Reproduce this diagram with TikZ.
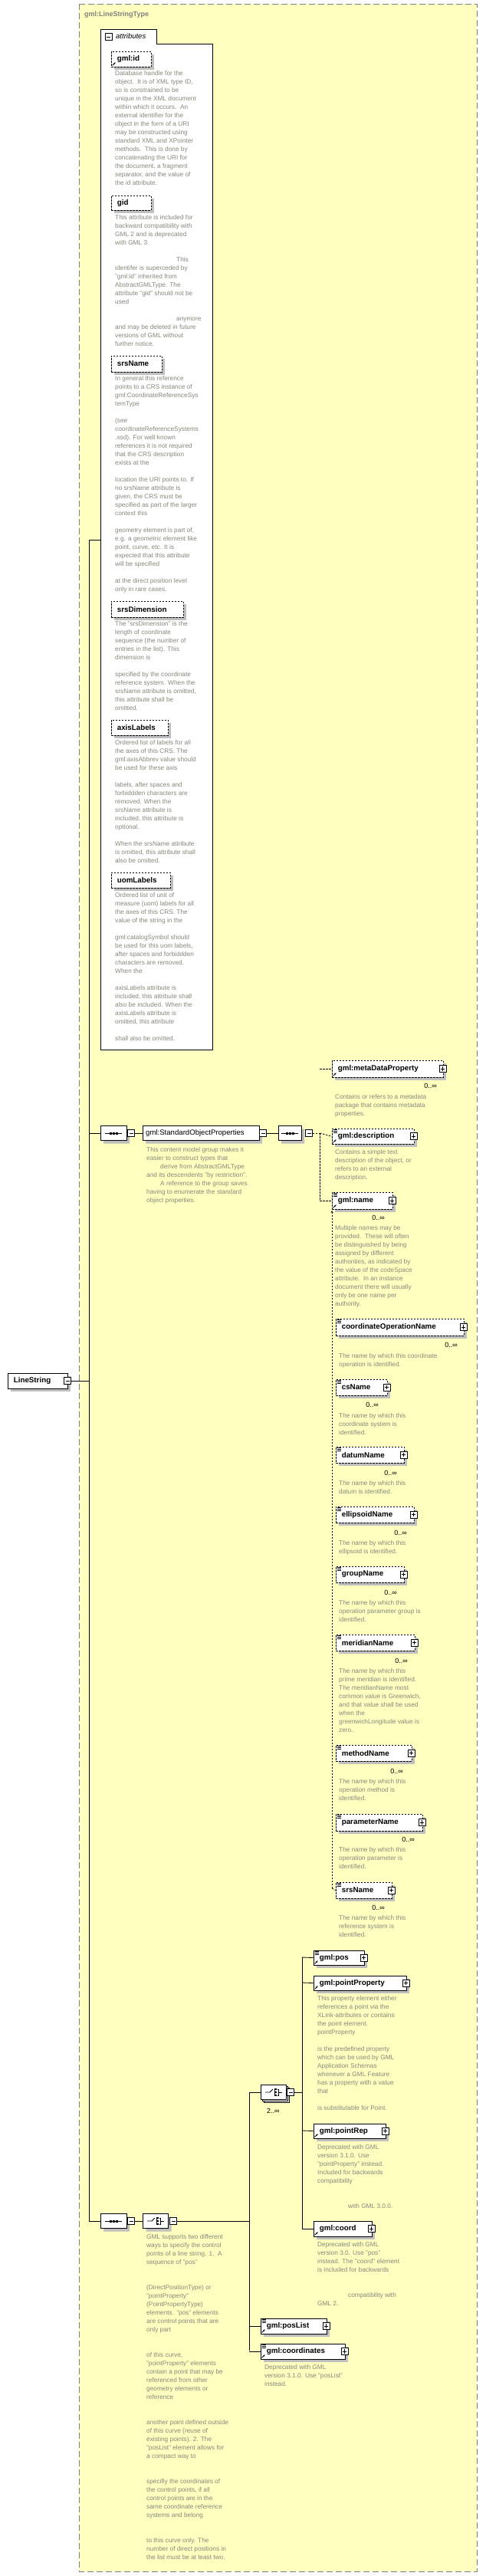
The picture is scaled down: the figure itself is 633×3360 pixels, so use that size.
\documentclass[tikz,border=0pt]{standalone}
\usepackage{fontspec}
\setmainfont{Liberation Sans}
\usetikzlibrary{shapes.misc,shadows,arrows.meta}
\definecolor{bgyellow}{RGB}{255,255,192}
\definecolor{descgray}{RGB}{135,135,125}
\definecolor{framegray}{RGB}{128,128,128}
\tikzset{
  desc/.style={anchor=north west,inner sep=0,align=left,text=descgray,font=\fontsize{8.3}{11}\selectfont},
  elem/.style={draw=black,fill=white,line width=0.8pt,inner sep=0,drop shadow={shadow xshift=4pt,shadow yshift=-4pt,fill=black!25,draw=none,opacity=1}},
  opt/.style={dashed,dash pattern=on 2.5pt off 1.5pt},
  elname/.style={anchor=west,inner sep=0,font=\bfseries\fontsize{9.8}{11}\selectfont},
  pm/.style={draw=black,fill=white,line width=0.6pt,minimum size=9pt,inner sep=0,
    path picture={\draw[line width=0.6pt] ([xshift=2pt]path picture bounding box.west) -- ([xshift=-2pt]path picture bounding box.east);}},
  pmplus/.style={pm,postaction={path picture={\draw[line width=0.6pt] ([yshift=2pt]path picture bounding box.south) -- ([yshift=-2pt]path picture bounding box.north);}}},
  compositor/.style={chamfered rectangle,chamfered rectangle xsep=5pt,chamfered rectangle ysep=5pt,draw=black,fill=white,line width=0.8pt,minimum width=34pt,minimum height=19pt,inner sep=0,drop shadow={shadow xshift=4pt,shadow yshift=-4pt,fill=black!25,draw=none,opacity=1}},
  mult/.style={anchor=east,inner sep=0,font=\fontsize{9}{10}\selectfont},
  conn/.style={line width=0.8pt,draw=black},
  dconn/.style={line width=0.8pt,draw=black,dash pattern=on 2.5pt off 1.5pt},
}
\newcommand\xel[7][]{\node[elem,#1,minimum width={(#5-#3)*1pt},minimum height={(#6-#4)*1pt}] (#2) at ({(#3+#5)/2},{(#4+#6)/2}) {};
  \node[elname] (#2-t) at ([xshift=8pt]#2.west) {#7};}
\newcommand\plusbox[1]{\node[pm] (#1-p) at ([xshift=-1pt]#1.east) {};
  \draw[line width=0.6pt] ([yshift=2pt]#1-p.south) -- ([yshift=-2pt]#1-p.north);}
\newcommand\minusbox[2]{\node[pm] (#1) at #2 {};}
\newcommand\refmark[1]{\draw[line width=0.8pt,-{Stealth[length=2.5pt,width=2.5pt]}] ([shift={(2pt,2pt)}]#1.south west) -- ([shift={(6pt,6pt)}]#1.south west);}
\newcommand\simplemark[1]{\foreach \d in {2,4,6}{\draw[line width=0.5pt] ([shift={(2pt,-\d pt)}]#1.north west) -- ++(5pt,0pt);}}
\newcommand\seqsym[1]{\draw[line width=0.8pt] ([xshift=-11pt]#1.center) -- ([xshift=11pt]#1.center);
  \foreach \d in {-4,0,4}{\fill ([shift={(\d pt-1.5pt,-1.5pt)}]#1.center) rectangle ++(3pt,3pt);}}
\newcommand\chsym[1]{\draw[line width=0.8pt] ([xshift=-11pt]#1.center) -- ([xshift=-5pt]#1.center) -- ([shift={(-1pt,4pt)}]#1.center);
  \draw[line width=0.8pt] ([shift={(1pt,5pt)}]#1.center) -- ([shift={(1pt,-5pt)}]#1.center);
  \foreach \d in {-4,0,4}{\fill ([shift={(2pt,\d pt-1.2pt)}]#1.center) rectangle ++(2.4pt,2.4pt);}
  \draw[line width=0.8pt] ([shift={(4.5pt,4pt)}]#1.center) -- ([shift={(6pt,4pt)}]#1.center) -- ([shift={(6pt,-4pt)}]#1.center) -- ([shift={(4.5pt,-4pt)}]#1.center);
  \draw[line width=0.8pt] ([xshift=6pt]#1.center) -- ([xshift=11pt]#1.center);}
\begin{document}
\begin{tikzpicture}[x=1pt,y=-1pt]
\useasboundingbox (0,0) rectangle (633,3360);
\fill[white] (0,0) rectangle (633,3360);
% type frame
\draw[fill=bgyellow,draw=framegray,line width=0.8pt,dash pattern=on 8pt off 4pt] (103,5) rectangle (622,3354);
\node[anchor=west,inner sep=0,text=framegray,font=\bfseries\fontsize{9}{10}\selectfont] (typelabel) at (110,19) {gml:LineStringType};
% attributes box
\draw[fill=white,line width=0.8pt] (131,57) rectangle (277,1369);
\draw[fill=white,line width=0.8pt] (131,38) rectangle (204,57);
\fill[white] (131.5,56) rectangle (203.5,58);
\node[pm] (attrm) at (141.5,48) {};
\node[anchor=west,inner sep=0,font=\itshape\fontsize{9.5}{11}\selectfont] (attrlabel) at (151,47.5) {attributes};
\coordinate (attrbox) at (131,704);
% attributes
\xel[opt]{gmlid}{145}{67}{197}{87}{gml:id}\refmark{gmlid}
\node[desc] (dgmlid) at (150,92) {Database handle for the\\object.\ \ It is of XML type ID,\\so is constrained to be\\unique in the XML document\\within which it occurs.\ \ An\\external identifier for the\\object in the form of a URI\\may be constructed using\\standard XML and XPointer\\methods.\ \ This is done by\\concatenating the URI for\\the document, a fragment\\separator, and the value of\\the id attribute.};
\xel[opt]{gid}{145}{255}{197}{274}{gid}
\node[desc] (dgid) at (150,280) {This attribute is included for\\backward compatibility with\\GML 2 and is deprecated\\with GML 3.\\[11pt]\hspace*{80pt}This\\identifer is superceded by\\"gml:id" inherited from\\AbstractGMLType. The\\attribute "gid" should not be\\used\\[11pt]\hspace*{80pt}anymore\\and may be deleted in future\\versions of GML without\\further notice.};
\xel[opt]{srsname}{145}{464}{211}{485}{srsName}
\node[desc] (dsrsname) at (150,490) {In general this reference\\points to a CRS instance of\\gml:CoordinateReferenceSys\\temType\\[11pt](see\\coordinateReferenceSystems\\.xsd). For well known\\references it is not required\\that the CRS description\\exists at the\\[11pt]location the URI points to. If\\no srsName attribute is\\given, the CRS must be\\specified as part of the larger\\context this\\[11pt]geometry element is part of,\\e.g. a geometric element like\\point, curve, etc. It is\\expected that this attribute\\will be specified\\[11pt]at the direct position level\\only in rare cases.};
\xel[opt]{srsdim}{145}{784}{239}{805}{srsDimension}
\node[desc] (dsrsdim) at (150,810) {The "srsDimension" is the\\length of coordinate\\sequence (the number of\\entries in the list). This\\dimension is\\[11pt]specified by the coordinate\\reference system. When the\\srsName attribute is omitted,\\this attribute shall be\\omitted.};
\xel[opt]{axislab}{145}{939}{219}{959}{axisLabels}
\node[desc] (daxislab) at (150,965) {Ordered list of labels for all\\the axes of this CRS. The\\gml:axisAbbrev value should\\be used for these axis\\[11pt]labels, after spaces and\\forbiddden characters are\\removed. When the\\srsName attribute is\\included, this attribute is\\optional.\\[11pt]When the srsName attribute\\is omitted, this attribute shall\\also be omitted.};
\xel[opt]{uomlab}{145}{1138}{222}{1158}{uomLabels}
\node[desc] (duomlab) at (150,1164) {Ordered list of unit of\\measure (uom) labels for all\\the axes of this CRS. The\\value of the string in the\\[11pt]gml:catalogSymbol should\\be used for this uom labels,\\after spaces and forbiddden\\characters are removed.\\When the\\[11pt]axisLabels attribute is\\included, this attribute shall\\also be included. When the\\axisLabels attribute is\\omitted, this attribute\\[11pt]shall also be omitted.};
% root element
\xel{linestring}{10}{1791}{88}{1811}{LineString}
\minusbox{lsm}{(88,1801)}
\coordinate (spine) at (116,1801);
% sequence 1
\node[compositor] (seq1) at (148,1478) {};\seqsym{seq1}
\minusbox{seq1m}{(171,1478)}
\node[compositor,minimum width=152pt,minimum height=19pt,chamfered rectangle xsep=4pt] (sop) at (262,1478) {};
\node[anchor=west,inner sep=0,font=\fontsize{9.6}{11}\selectfont] (sopt) at (190,1478) {gml:StandardObjectProperties};
\minusbox{sopm}{(343,1478)}
\node[desc] (dsop) at (191,1496) {This content model group makes it\\easier to construct types that\\\hspace*{18pt}derive from AbstractGMLType\\and its descendents "by restriction".\\\hspace*{18pt}A reference to the group saves\\having to enumerate the standard\\object properties.};
\node[compositor,minimum width=30pt] (seq2) at (378,1478) {};\seqsym{seq2}
\minusbox{seq2m}{(403,1478)}
% standard object properties
\xel[opt]{mdp}{433}{1383}{578}{1405}{gml:metaDataProperty}\plusbox{mdp}\refmark{mdp}
\node[mult] (mmdp) at (570,1416) {0..∞};
\node[desc] (dmdp) at (437,1427) {Contains or refers to a metadata\\package that contains metadata\\properties.};
\xel[opt]{gdesc}{433}{1472}{540}{1492}{gml:description}\plusbox{gdesc}\refmark{gdesc}\simplemark{gdesc}
\node[desc] (dgdesc) at (437,1499) {Contains a simple text\\description of the object, or\\refers to an external\\description.};
\xel[opt]{gname}{433}{1555}{512}{1577}{gml:name}\plusbox{gname}\refmark{gname}\simplemark{gname}
\node[mult] (mgname) at (502,1588) {0..∞};
\node[desc] (dgname) at (437,1598) {Multiple names may be\\provided.\ \ These will often\\be distinguished by being\\assigned by different\\authorities, as indicated by\\the value of the codeSpace\\attribute.\ \ In an instance\\document there will usually\\only be one name per\\authority.};
% substitution group members
\xel[opt]{con}{438}{1720}{605}{1742}{coordinateOperationName}\plusbox{con}\simplemark{con}
\node[mult] (mcon) at (597,1754) {0..∞};
\node[desc] (dcon) at (442,1765) {The name by which this coordinate\\operation is identified.};
\xel[opt]{csname}{438}{1799}{505}{1820}{csName}\plusbox{csname}\simplemark{csname}
\node[mult] (mcsname) at (494,1832) {0..∞};
\node[desc] (dcsname) at (442,1843) {The name by which this\\coordinate system is\\identified.};
\xel[opt]{datum}{438}{1887}{527}{1908}{datumName}\plusbox{datum}\simplemark{datum}
\node[mult] (mdatum) at (518,1921) {0..∞};
\node[desc] (ddatum) at (442,1931) {The name by which this\\datum is identified.};
\xel[opt]{ellip}{438}{1965}{540}{1986}{ellipsoidName}\plusbox{ellip}\simplemark{ellip}
\node[mult] (mellip) at (531,1999) {0..∞};
\node[desc] (dellip) at (442,2009) {The name by which this\\ellipsoid is identified.};
\xel[opt]{group}{438}{2043}{527}{2064}{groupName}\plusbox{group}\simplemark{group}
\node[mult] (mgroup) at (518,2077) {0..∞};
\node[desc] (dgroup) at (442,2087) {The name by which this\\operation parameter group is\\identified.};
\xel[opt]{merid}{438}{2132}{541}{2153}{meridianName}\plusbox{merid}\simplemark{merid}
\node[mult] (mmerid) at (532,2166) {0..∞};
\node[desc] (dmerid) at (442,2176) {The name by which this\\prime meridian is identified.\\The meridianName most\\common value is Greenwich,\\and that value shall be used\\when the\\greenwichLongitude value is\\zero.};
\xel[opt]{method}{438}{2276}{537}{2297}{methodName}\plusbox{method}\simplemark{method}
\node[mult] (mmethod) at (526,2310) {0..∞};
\node[desc] (dmethod) at (442,2320) {The name by which this\\operation method is\\identified.};
\xel[opt]{param}{438}{2366}{551}{2388}{parameterName}\plusbox{param}\simplemark{param}
\node[mult] (mparam) at (541,2399) {0..∞};
\node[desc] (dparam) at (442,2409) {The name by which this\\operation parameter is\\identified.};
\xel[opt]{srsn2}{438}{2455}{511}{2476}{srsName}\plusbox{srsn2}\simplemark{srsn2}
\node[mult] (msrsn2) at (502,2488) {0..∞};
\node[desc] (dsrsn2) at (442,2498) {The name by which this\\reference system is\\identified.};
% bottom part
\node[compositor] (seq3) at (148,2897) {};\seqsym{seq3}
\minusbox{seq3m}{(171,2897)}
\node[compositor,minimum width=33pt] (ch1) at (203,2897) {};\chsym{ch1}
\minusbox{ch1m}{(226,2897)}
\node[desc] (dch1) at (191,2914) {GML supports two different\\ways to specify the control\\points of a line string. 1.\ \ A\\sequence of "pos"\\[22pt](DirectPositionType) or\\"pointProperty"\\(PointPropertyType)\\elements. "pos" elements\\are control points that are\\only part\\[22pt]of this curve,\\"pointProperty" elements\\contain a point that may be\\referenced from other\\geometry elements or\\reference\\[22pt]another point defined outside\\of this curve (reuse of\\existing points). 2. The\\"posList" element allows for\\a compact way to\\[22pt]specifiy the coordinates of\\the control points, if all\\control points are in the\\same coordinate reference\\systems and belong\\[22pt]to this curve only. The\\number of direct positions in\\the list must be at least two.};
\node[compositor,minimum width=33pt,double copy shadow={shadow xshift=2pt,shadow yshift=-2pt,fill=white,draw=black}] (ch2) at (357,2729) {};\chsym{ch2}
\minusbox{ch2m}{(379,2729)}
\node[anchor=west,inner sep=0,font=\fontsize{9}{10}\selectfont] (mch2) at (348,2753) {2..∞};
\coordinate (v2) at (394,2729);
\xel{pos}{409}{2544}{475}{2563}{gml:pos}\plusbox{pos}\refmark{pos}\simplemark{pos}
\xel{pp}{409}{2577}{530}{2596}{gml:pointProperty}\plusbox{pp}\refmark{pp}
\node[desc] (dpp) at (414,2603) {This property element either\\references a point via the\\XLink-attributes or contains\\the point element.\\pointProperty\\[11pt]is the predefined property\\which can be used by GML\\Application Schemas\\whenever a GML Feature\\has a property with a value\\that\\[11pt]is substitutable for Point.};
\xel{prep}{409}{2770}{503}{2789}{gml:pointRep}\plusbox{prep}\refmark{prep}
\node[desc] (dprep) at (414,2797) {Deprecated with GML\\version 3.1.0. Use\\"pointProperty" instead.\\Included for backwards\\compatibility\\[22pt]\hspace*{40pt}with GML 3.0.0.};
\xel{coord}{409}{2897}{485}{2917}{gml:coord}\plusbox{coord}\refmark{coord}
\node[desc] (dcoord) at (414,2924) {Deprecated with GML\\version 3.0. Use "pos"\\instead. The "coord" element\\is included for backwards\\[22pt]\hspace*{40pt}compatibility with\\GML 2.};
\xel{poslist}{340}{3024}{426}{3044}{gml:posList}\plusbox{poslist}\refmark{poslist}\simplemark{poslist}
\xel{coords}{340}{3057}{450}{3077}{gml:coordinates}\plusbox{coords}\refmark{coords}\simplemark{coords}
\node[desc] (dcoords) at (345,3084) {Deprecated with GML\\version 3.1.0. Use "posList"\\instead.};
% connectors
\draw[conn] (lsm.east) -- (spine);
\draw[conn] (116,704) -- (116,2897);
\draw[conn] (116,704) -- (attrbox);
\draw[conn] (116,1478) -- (seq1.west);
\draw[conn] (116,2897) -- (seq3.west);
\draw[conn] (seq1m.east) -- (sop.west);
\draw[conn] (sopm.east) -- (seq2.west);
\draw[dconn] (seq2m.east) -- (417,1478);
\draw[dconn] (417,1394) |- (mdp.west);
\draw[dconn] (417,1478) -- (gdesc.west);
\draw[dconn] (417,1478) |- (gname.west);
\draw[dconn,-{Stealth[length=3pt,width=3pt]}] (433,2463) -- (433,1579);
\draw[dconn] (433,2463) -- (srsn2.west);
\draw[conn] (seq3m.east) -- (ch1.west);
\draw[conn] (ch1m.east) -- (325,2897);
\draw[conn] (325,2729) -- (325,3066);
\draw[conn] (325,2729) -- (ch2.west);
\draw[conn] (325,3034) -- (poslist.west);
\draw[conn] (325,3067) -- (coords.west);
\draw[conn] (ch2m.east) -- (v2);
\draw[conn] (394,2553) -- (394,2907);
\draw[conn] (394,2553) -- (pos.west);
\draw[conn] (394,2586) -- (pp.west);
\draw[conn] (394,2779) -- (prep.west);
\draw[conn] (394,2907) -- (coord.west);
\end{tikzpicture}
\end{document}
